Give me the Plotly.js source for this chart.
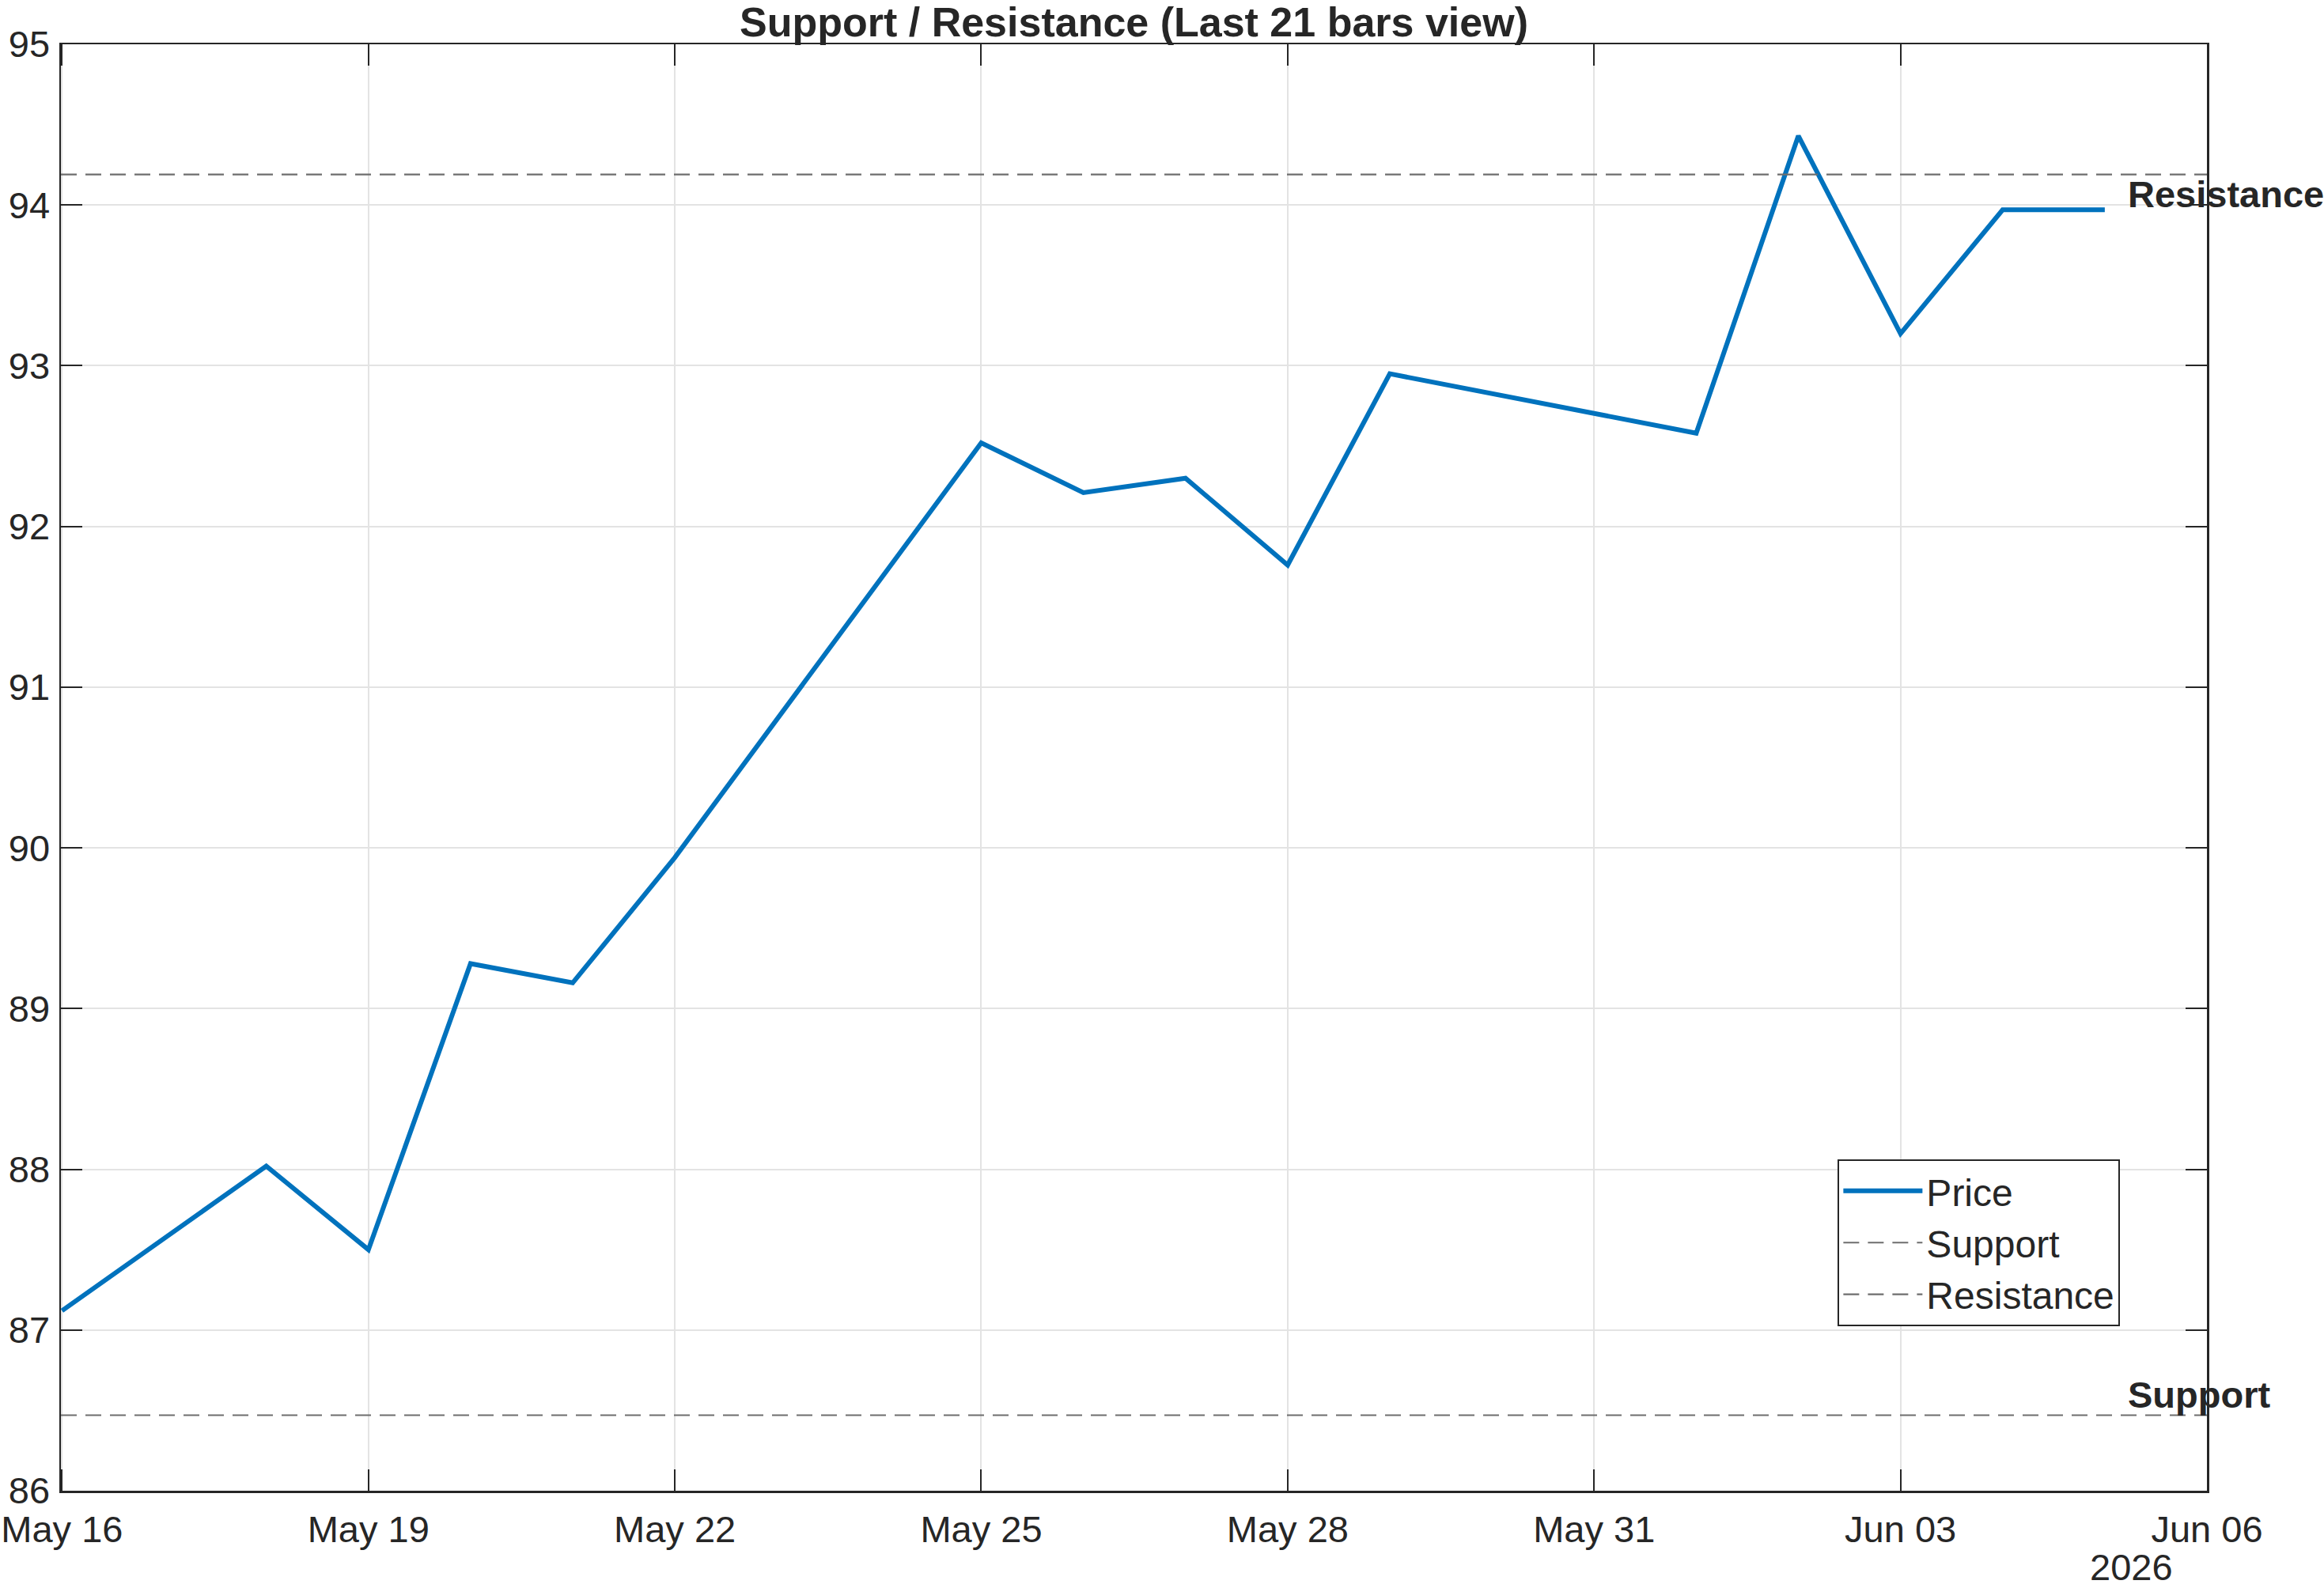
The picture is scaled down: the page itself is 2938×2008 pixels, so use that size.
<!DOCTYPE html>
<html>
<head>
<meta charset="utf-8">
<script src="https://cdn.plot.ly/plotly-3.0.1.min.js"></script>
<style>
  html, body { margin: 0; padding: 0; background: #fff; }
  #chart { width: 2938px; height: 2008px; }
</style>
</head>
<body>
<div id="chart"></div>
<script>
// price path (vertices)
const dates = ['2026-05-16', '2026-05-18', '2026-05-19', '2026-05-20', '2026-05-21', '2026-05-22',
  '2026-05-25', '2026-05-26', '2026-05-27', '2026-05-28', '2026-05-29',
  '2026-06-01', '2026-06-02', '2026-06-03', '2026-06-04', '2026-06-05'];
const price = [87.12, 88.02, 87.50, 89.28, 89.16, 89.94,
  92.52, 92.21, 92.30, 91.76, 92.95,
  92.58, 94.43, 93.20, 93.97, 93.97];

const supportLevel = 86.47;
const resistanceLevel = 94.19;
const xStart = '2026-05-15 23:45';
const xEnd = '2026-06-06';
const tickDates = ['2026-05-16', '2026-05-19', '2026-05-22', '2026-05-25',
  '2026-05-28', '2026-05-31', '2026-06-03', '2026-06-06'];
const labelX = '2026-06-05 05:00';

const FONT = '"Liberation Sans", Arial, Helvetica, sans-serif';
const INK = '#262626';
const FS = 47;

const traces = [
  {
    x: dates, y: price, type: 'scatter', mode: 'lines', name: 'Price',
    line: {color: '#0072BD', width: 6}
  },
  {
    x: [xStart, xEnd], y: [supportLevel, supportLevel], type: 'scatter', mode: 'lines', name: 'Support',
    line: {color: '#6e6e6e', width: 2.2, dash: '20px,11px'}
  },
  {
    x: [xStart, xEnd], y: [resistanceLevel, resistanceLevel], type: 'scatter', mode: 'lines', name: 'Resistance',
    line: {color: '#6e6e6e', width: 2.2, dash: '20px,11px'}
  }
];

const axisBase = {
  showline: true, linecolor: INK, linewidth: 2.5, mirror: 'ticks',
  ticks: 'inside', ticklen: 27, tickwidth: 2, tickcolor: INK,
  showgrid: true, gridcolor: '#e3e3e3', gridwidth: 2,
  zeroline: false,
  tickfont: {family: FONT, size: FS, color: INK}
};

const layout = {
  width: 2938, height: 2008,
  margin: {l: 77, r: 148, t: 56, b: 123},
  paper_bgcolor: '#fff', plot_bgcolor: '#fff',
  showlegend: true,
  title: {
    text: '<b>Support / Resistance (Last 21 bars view)</b>',
    font: {family: FONT, size: 52, color: INK},
    x: 0.5, xref: 'paper', y: 1, yref: 'paper', yanchor: 'bottom', pad: {b: 10}
  },
  xaxis: Object.assign({}, axisBase, {
    type: 'date', range: [xStart, xEnd],
    tickmode: 'array', tickvals: tickDates, tickformat: '%b %d',
    ticklabelstandoff: 6
  }),
  yaxis: Object.assign({}, axisBase, {
    range: [86, 95], dtick: 1, ticklabelstandoff: 2
  }),
  legend: {
    x: 0.828, y: 0.229, xanchor: 'left', yanchor: 'top',
    bgcolor: '#fff', bordercolor: INK, borderwidth: 2,
    font: {family: FONT, size: 48, color: INK},
    itemwidth: 100, tracegroupgap: 0
  },
  annotations: [
    {x: labelX, y: resistanceLevel - 0.12, xref: 'x', yref: 'y', text: '<b>Resistance</b>',
      showarrow: false, xanchor: 'left', yanchor: 'middle',
      font: {family: FONT, size: FS, color: INK}},
    {x: labelX, y: supportLevel + 0.13, xref: 'x', yref: 'y', text: '<b>Support</b>',
      showarrow: false, xanchor: 'left', yanchor: 'middle',
      font: {family: FONT, size: FS, color: INK}},
    {x: 0.985, y: -0.053, xref: 'paper', yref: 'paper', text: '2026',
      showarrow: false, xanchor: 'right', yanchor: 'middle',
      font: {family: FONT, size: FS, color: INK}}
  ]
};

Plotly.newPlot('chart', traces, layout, {displayModeBar: false, staticPlot: true});
</script>
</body>
</html>
